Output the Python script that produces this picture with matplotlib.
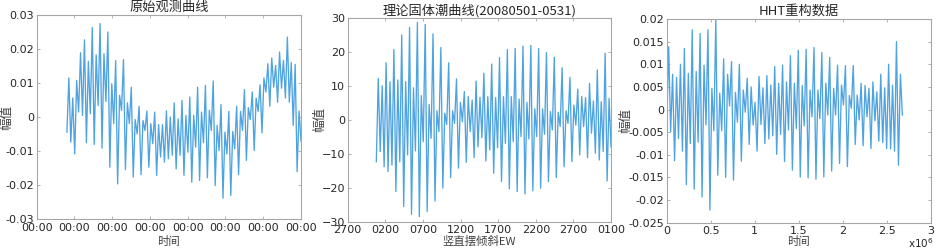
import datetime as dt
import numpy as np
import matplotlib
matplotlib.use('Agg')
import matplotlib.pyplot as plt
import matplotlib.dates as mdates
from matplotlib.ticker import FuncFormatter

# --- data: successive turning points (peaks / troughs) ---
obs_vals = [-0.0044, 0.0115, -0.0073, 0.0056, -0.0108, 0.0108, 0.0015, 0.0189, 0.0005, 0.0227,
            -0.0075, 0.0164, 0.0010, 0.0263, -0.0080, 0.0183, 0.0034, 0.0275, -0.0091, 0.0186,
            0.0046, 0.0250, -0.0147, 0.0098, -0.0019, 0.0166, -0.0196, 0.0064, 0.0020, 0.0169,
            -0.0154, 0.0042, -0.0019, 0.0088, -0.0176, -0.0007, -0.0049, 0.0032, -0.0169, -0.0010,
            -0.0039, 0.0018, -0.0147, -0.0019, -0.0078, 0.0015, -0.0171, -0.0022, -0.0117, -0.0022,
            -0.0132, 0.0019, -0.0122, 0.0000, -0.0112, 0.0042, -0.0152, -0.0005, -0.0112, 0.0049,
            -0.0171, 0.0005, -0.0103, 0.0059, -0.0191, 0.0005, -0.0088, 0.0088, -0.0186, 0.0015,
            -0.0075, 0.0093, -0.0178, 0.0020, -0.0039, 0.0106, -0.0201, -0.0024, -0.0098, 0.0037,
            -0.0238, -0.0044, -0.0108, 0.0017, -0.0230, -0.0042, -0.0093, 0.0032, -0.0169, 0.0017,
            -0.0039, 0.0081, -0.0127, 0.0028, -0.0007, 0.0074, -0.0098, 0.0056, 0.0017, 0.0095,
            -0.0046, 0.0115, 0.0074, 0.0157, 0.0032, 0.0174, 0.0088, 0.0152, 0.0044, 0.0191,
            0.0085, 0.0167, 0.0056, 0.0235, 0.0044, 0.0160, -0.0024, 0.0155, -0.0160, 0.0018,
            -0.0070]

tide_vals = [-12.3, 12.3, -9.3, 10.1, -13.8, 16.9, -15.2, 11.3, -13.3, 20.8,
             -21.1, 11.8, -12.3, 25.1, -25.5, 11.3, -10.3, 27.3, -27.8, 9.5,
             -9.1, 28.8, -28.5, 7.2, -6.4, 28.2, -27.0, 4.6, -5.4, 25.4,
             -23.9, 2.7, -3.4, 21.4, -20.1, 2.0, -1.3, 16.9, -17.0, 2.7,
             -1.0, 12.1, -14.2, 5.2, -0.5, 8.4, -12.5, 6.9, -3.4, 5.9,
             -11.1, 11.5, -7.9, 6.7, -5.2, 13.8, -12.1, 6.9, -8.8, 16.5,
             -15.7, 6.6, -8.2, 18.4, -18.2, 6.9, -6.9, 20.8, -20.3, 6.9,
             -6.4, 21.1, -21.1, 6.2, -4.9, 21.8, -21.8, 5.2, -5.6, 22.0,
             -20.9, 3.3, -4.9, 21.1, -20.1, 3.3, -4.2, 19.9, -18.2, 2.5,
             -2.9, 18.5, -17.0, 2.3, -1.9, 15.4, -13.8, 2.7, -1.0, 12.6,
             -12.3, 4.4, -1.5, 9.1, -10.3, 6.9, -1.9, 6.6, -11.1, 10.8,
             -3.9, 5.6, -9.8, 14.8, -11.8, 5.4, -9.3, 19.7, -18.0, 6.4,
             -8.0]

hht_vals = [-0.0034, 0.0139, -0.0049, 0.0078, -0.0113, 0.0071, -0.0064, 0.0100, -0.0092, 0.0135,
            -0.0166, 0.0080, -0.0075, 0.0176, -0.0176, 0.0084, -0.0072, 0.0168, -0.0193, 0.0098,
            -0.0034, 0.0176, -0.0222, 0.0047, -0.0047, 0.0198, -0.0145, 0.0036, -0.0047, 0.0112,
            -0.0150, 0.0078, 0.0008, 0.0106, -0.0156, 0.0038, -0.0028, 0.0100, -0.0114, 0.0043,
            -0.0006, 0.0069, -0.0077, 0.0050, -0.0034, 0.0016, -0.0092, 0.0073, -0.0033, 0.0048,
            -0.0075, 0.0075, -0.0065, 0.0054, -0.0058, 0.0095, -0.0099, 0.0058, -0.0055, 0.0098,
            -0.0115, 0.0061, -0.0045, 0.0119, -0.0134, 0.0058, -0.0042, 0.0131, -0.0149, 0.0053,
            -0.0036, 0.0133, -0.0151, 0.0043, -0.0016, 0.0137, -0.0154, 0.0043, -0.0020, 0.0126,
            -0.0149, 0.0058, -0.0012, 0.0115, -0.0136, 0.0047, -0.0012, 0.0098, -0.0119, 0.0054,
            0.0010, 0.0097, -0.0126, 0.0031, 0.0003, 0.0097, -0.0077, 0.0032, -0.0023, 0.0058,
            -0.0080, 0.0053, -0.0016, 0.0047, -0.0086, 0.0061, -0.0025, 0.0039, -0.0070, 0.0078,
            -0.0073, 0.0048, -0.0086, 0.0100, -0.0087, 0.0054, -0.0092, 0.0150, -0.0123, 0.0078,
            -0.0012]

titles = ['原始观测曲线', '理论固体潮曲线(20080501-0531)', 'HHT重构数据']
xlabels = ['时间', '竖直摆倾斜EW', '时间']
tide_xticklabels = ['2700', '0200', '0700', '1200', '1700', '2200', '2700', '0100']

start = dt.datetime(2008, 5, 1)
days = 31

# ------------------------------------------------------------------
line_c = '#4ea3e0'
frame_c = '#a6a6a6'
text_c = '#262626'
cjk = ['Noto Sans CJK SC', 'DejaVu Sans']
plt.rcParams['font.family'] = ['DejaVu Sans', 'Noto Sans CJK SC']
plt.rcParams['font.size'] = 8

W, H = 936, 250
fig = plt.figure(figsize=(W / 100, H / 100), dpi=100)
ax1 = fig.add_axes([0.0392, 0.1228, 0.2824, 0.8172])
ax2 = fig.add_axes([0.3715, 0.1132, 0.2813, 0.8136])
ax3 = fig.add_axes([0.7123, 0.1092, 0.2820, 0.8148])


def style(ax):
    for s in ax.spines.values():
        s.set_color(frame_c)
        s.set_linewidth(0.8)
    ax.tick_params(direction='in', top=True, right=True, length=2.5, width=0.6,
                   color=frame_c, labelcolor=text_c, labelsize=8)
    ax.tick_params(axis='x', pad=2.5)
    ax.tick_params(axis='y', pad=2)


# panel 1: raw observation, date axis
t0 = mdates.date2num(start)
x1 = t0 + np.linspace(0, days, len(obs_vals))
ax1.plot(x1, obs_vals, color=line_c, lw=0.95)
lo, hi = t0 - 4, t0 + days
ax1.set_xlim(lo, hi)
ax1.set_xticks(np.arange(lo, hi + 0.1, 5))
ax1.xaxis.set_major_formatter(mdates.DateFormatter('%H:%M'))
ax1.set_ylim(-0.03, 0.03)
ax1.set_yticks(np.arange(-0.03, 0.031, 0.01))
ax1.yaxis.set_major_formatter(FuncFormatter(lambda v, p: '%g' % round(v, 4)))

# panel 2: theoretical tide
x2 = np.linspace(0, days + 0.2, len(tide_vals))
ax2.plot(x2, tide_vals, color=line_c, lw=0.95)
ax2.set_xlim(-3.8, days + 0.2)
ax2.set_xticks(np.linspace(-3.8, days + 0.2, len(tide_xticklabels)))
ax2.set_xticklabels(tide_xticklabels)
ax2.set_ylim(-30, 30)
ax2.set_yticks(np.arange(-30, 31, 10))

# panel 3: HHT reconstruction, seconds
x3 = np.linspace(0, days * 86400, len(hht_vals))
ax3.plot(x3, hht_vals, color=line_c, lw=0.95)
ax3.set_xlim(0, 3e6)
ax3.set_xticks(np.arange(0, 3.01e6, 0.5e6))
ax3.xaxis.set_major_formatter(FuncFormatter(lambda v, p: '%g' % (v / 1e6)))
ax3.set_ylim(-0.025, 0.02)
ax3.set_yticks(np.arange(-0.025, 0.0201, 0.005))
ax3.yaxis.set_major_formatter(FuncFormatter(lambda v, p: '%g' % round(v, 4)))
fig.text(934 / W, 1 - 236 / H, r'x10$^6$', ha='right', va='top', fontsize=7.5, color=text_c)

ylab_x = [-0.09, -0.083, -0.13]
for ax, ttl, xl, yx in zip([ax1, ax2, ax3], titles, xlabels, ylab_x):
    style(ax)
    ax.set_title(ttl, family=cjk, fontsize=9.5, color=text_c, pad=3)
    ax.set_ylabel('幅值', family=cjk, fontsize=9, color='#404040')
    ax.yaxis.set_label_coords(yx, 0.5)
    ax.set_xlabel(xl, family=cjk, fontsize=8.2, color='#404040')
    # put every x label top at the same figure row (~236 px from top)
    pos = ax.get_position()
    ax.xaxis.set_label_coords(0.5, ((1 - 236 / H) - pos.y0) / pos.height)

fig.savefig('out.png', dpi=100)
